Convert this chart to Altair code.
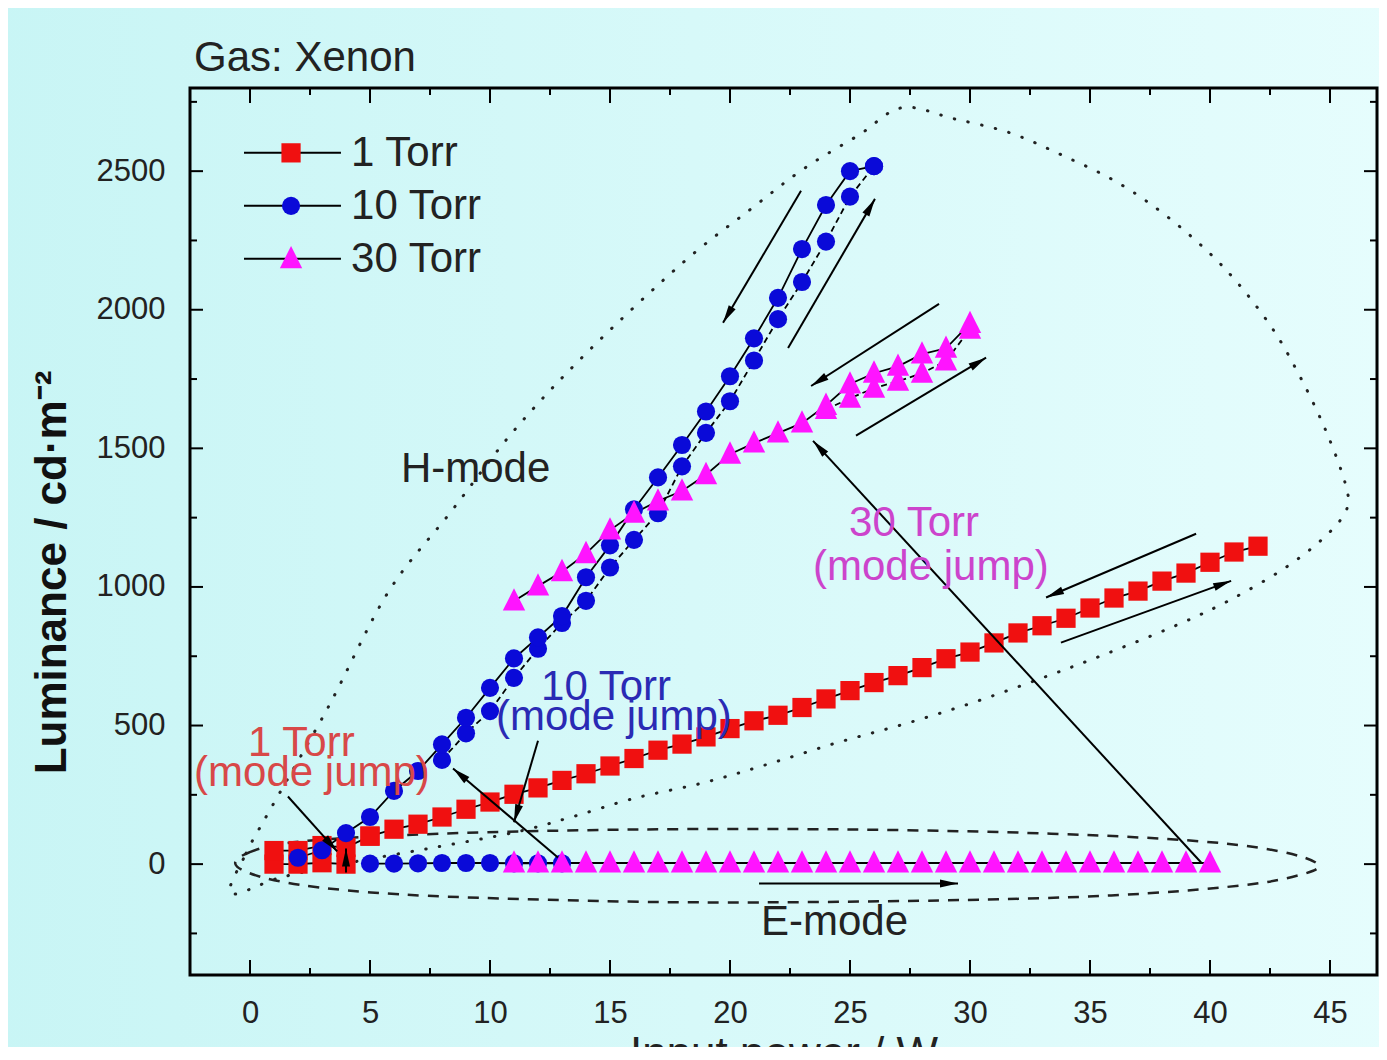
import math
import altair as alt
import pandas as pd

FONT = "Liberation Sans"

# ---------------- data ----------------
# 1 Torr
red_E_x = [1, 2, 3, 4]
red_E_y = [0, 0, 5, 0]
red_H_x = [5, 6, 7, 8, 9, 10, 11, 12, 13, 14, 15, 16, 17, 18, 19, 20, 21, 22, 23,
           24, 25, 26, 27, 28, 29, 30, 31, 32, 33, 34, 35, 36, 37, 38, 39, 40, 41, 42]
red_H_y = [101, 126, 144, 170, 198, 224, 252, 275, 302, 326,
           354, 381, 411, 433, 459, 489, 517, 537, 565, 596,
           626, 655, 680, 709, 741, 765, 798, 834, 860, 887,
           924, 960, 985, 1021, 1050, 1089, 1126, 1147]
red_D_x = [5, 4, 3, 2, 1]
red_D_y = [101, 60, 67, 49, 49]

# 10 Torr
blue_E_x = [5, 6, 7, 8, 9, 10, 11, 12, 13]
blue_E_y = [2, 2, 3, 4, 4, 4, 3, 3, 3]
blue_U_x = [8, 9, 10, 11, 12, 13, 14, 15, 16, 17, 18, 19, 20, 21, 22, 23, 24, 25, 26]
blue_U_y = [376, 472, 552, 672, 777, 870, 950, 1070, 1170, 1266,
            1435, 1556, 1670, 1817, 1966, 2100, 2246, 2408, 2518]
blue_D_x = [26, 25, 24, 23, 22, 21, 20, 19, 18, 17, 16, 15, 14, 13, 12, 11, 10,
            9, 8, 7, 6, 5, 4, 3, 2]
blue_D_y = [2518, 2500, 2378, 2219, 2043, 1897, 1760, 1633, 1512, 1395, 1280,
            1150, 1035, 895, 818, 742, 636, 528, 432, 336, 264, 170, 112, 50, 23]

# 30 Torr
pink_E_x = [11, 12, 13, 14, 15, 16, 17, 18, 19, 20, 21, 22, 23, 24, 25, 26, 27,
            28, 29, 30, 31, 32, 33, 34, 35, 36, 37, 38, 39, 40]
pink_E_y = [4, 4, 4, 4, 4, 4, 4, 4, 4, 4, 4, 4, 4, 4, 4,
            4, 4, 4, 4, 4, 4, 4, 4, 4, 4, 4, 4, 4, 4, 4]
pink_U_x = [24, 25, 26, 27, 28, 29, 30]
pink_U_y = [1640, 1681, 1717, 1742, 1771, 1815, 1930]
pink_D_x = [30, 29, 28, 27, 26, 25, 24, 23, 22, 21, 20, 19, 18, 17, 16, 15, 14,
            13, 12, 11]
pink_D_y = [1950, 1861, 1840, 1796, 1771, 1732, 1655, 1591, 1555, 1519, 1479,
            1405, 1346, 1310, 1266, 1205, 1120, 1055, 1003, 949]

# tick values
x_labels = [0, 5, 10, 15, 20, 25, 30, 35, 40, 45]
x_minor = [2.5, 7.5, 12.5, 17.5, 22.5, 27.5, 32.5, 37.5, 42.5]
y_labels = [0, 500, 1000, 1500, 2000, 2500]
y_minor = [-250, 250, 750, 1250, 1750, 2250, 2750]

# E-mode region (dashed loop), data coordinates
e_loop_x = [-0.54, -0.04, 2.13, 7.96, 16.29, 25.04, 33.38, 39.63, 42.96, 44.5,
            43.79, 41.29, 35.88, 28.79, 18.79, 10.46, 5.04, 1.29]
e_loop_y = [-9, 42, 82, 110, 125, 125, 110, 82, 45, -1,
            -38, -77, -113, -131, -138, -124, -102, -63]

# H-mode region (dotted loop), data coordinates
h_loop_x = [-0.79, -0.17, 0.75, 3.25, 5.75, 8.38, 11.0, 14.08, 18.04, 20.88,
            23.08, 25.38, 27.17, 29.33, 31.67, 33.88, 36.17, 38.38, 40.58, 42.46,
            43.75, 44.88, 45.67, 45.67, 44.75, 43.08, 40.79, 38.58, 35.71, 32.96,
            30.13, 27.33, 24.5, 21.67, 18.92, 16.0, 13.33, 11.0, 7.67, 4.21, 1.29]
h_loop_y = [-106, 38, 183, 565, 980, 1272, 1564, 1849, 2170, 2364,
            2509, 2631, 2729, 2689, 2638, 2556, 2458, 2325, 2152, 1950,
            1759, 1553, 1362, 1275, 1178, 1066, 951, 861, 760, 670,
            583, 507, 439, 363, 294, 237, 168, 114, 60, 6, -48]

# annotation arrows (tail -> head), data coordinates
arr_tx = [22.96, 22.42, 28.71, 25.25, 39.42, 33.79, 21.21, 39.63, 12.0, 12.83, 1.58, 4.0]
arr_ty = [2429, 1862, 2021, 1546, 1192, 799, -70, 6, 445, 24, 244, -30]
arr_hx = [19.71, 26.04, 23.38, 30.67, 33.17, 40.88, 29.5, 23.46, 11.0, 8.46, 3.63, 4.0]
arr_hy = [1953, 2400, 1725, 1827, 962, 1022, -70, 1527, 151, 345, 46, 56]

# texts
ann_text = ["Gas: Xenon", "H-mode", "E-mode", "30 Torr", "(mode jump)",
            "10 Torr", "(mode jump)", "1 Torr", "(mode jump)"]
ann_x = [-2.33, 6.29, 21.29, 24.96, 23.46, 12.13, 10.25, -0.08, -2.33]
ann_y = [2909, 1427, -207, 1232, 1073, 640, 532, 438, 327]
ann_col = ["#222222", "#222222", "#222222", "#cc44cc", "#cc44cc",
           "#2a2ab4", "#2a2ab4", "#d84848", "#d84848"]

leg_names = ["1 Torr", "10 Torr", "30 Torr"]
leg_y = [2566, 2375, 2184]
leg_line_x = [-0.25, 3.79]
leg_mark_x = 1.71
leg_text_x = 4.21

# ---------------- geometry ----------------
W, H = 1187, 887
XMIN = -2.5
XMAX = XMIN + W / 24.0
YMIN, YMAX = -400, 2800
SX = W / (XMAX - XMIN)
SY = H / (YMAX - YMIN)

RED, BLUE, PINK = "#f01010", "#0a0ad8", "#ff14ff"
TRI = "M0,-1.15L-1,0.85L1,0.85Z"
ARROW = "M0,0L-4.5,-1L-4.5,1Z"

XS = alt.Scale(domain=[XMIN, XMAX], nice=False, zero=False)
YS = alt.Scale(domain=[YMIN, YMAX], nice=False, zero=False)
XAX = alt.Axis(values=x_labels, format="d", title="Input power / W", ticks=False,
               tickSize=0, domain=False, grid=False, labelFontSize=31,
               labelPadding=23, labelFont=FONT, labelColor="#222222",
               titleFont=FONT, titleFontSize=44, titleFontWeight="normal",
               titleColor="#222222", titlePadding=4, labelFlush=False, zindex=2)
YAX = alt.Axis(values=y_labels, format="d", title="Luminance / cd·m⁻²", ticks=False,
               tickSize=0, domain=False, grid=False, labelFontSize=31,
               labelPadding=25, labelFont=FONT, labelColor="#222222",
               titleFont=FONT, titleFontSize=44, titleFontWeight="bold",
               titleColor="#111111", titleX=-116, titleY=484, labelFlush=False,
               zindex=2)


def X(f="x"):
    return alt.X(f"{f}:Q", scale=XS, axis=XAX)


def Y(f="y"):
    return alt.Y(f"{f}:Q", scale=YS, axis=YAX)


# series table
segments = [
    ("1 Torr", "rE", red_E_x, red_E_y, False),
    ("1 Torr", "rH", red_H_x, red_H_y, False),
    ("1 Torr", "rD", red_D_x, red_D_y, False),
    ("10 Torr", "bE", blue_E_x, blue_E_y, False),
    ("10 Torr", "bU", blue_U_x, blue_U_y, True),
    ("10 Torr", "bD", blue_D_x, blue_D_y, False),
    ("30 Torr", "pE", pink_E_x, pink_E_y, False),
    ("30 Torr", "pU", pink_U_x, pink_U_y, True),
    ("30 Torr", "pD", pink_D_x, pink_D_y, False),
]
rows = []
for series, seg, xs, ys, dash in segments:
    for i, (xv, yv) in enumerate(zip(xs, ys)):
        rows.append({"series": series, "seg": seg, "ord": i, "x": xv, "y": yv, "dash": dash})
df = pd.DataFrame(rows)

layers = []

# background gradient
bg = alt.Chart(pd.DataFrame({"a": [0]})).mark_rect(
    fill=alt.LinearGradient(gradient="linear",
                            stops=[alt.GradientStop(offset=0, color="#c8f5f5"),
                                   alt.GradientStop(offset=1, color="#e6fdfd")],
                            x1=0, x2=1, y1=0, y2=0)
).encode(x=alt.value(-200), x2=alt.value(W + 20), y=alt.value(-100), y2=alt.value(H + 90))
layers.append(bg)

# region loops
eloop = pd.DataFrame({"x": e_loop_x, "y": e_loop_y, "i": list(range(len(e_loop_x)))})
layers.append(alt.Chart(eloop).mark_line(interpolate="cardinal-closed", color="#222222",
                                         strokeWidth=2.5, strokeDash=[11, 9]).encode(
    x=X(), y=Y(), order="i:Q"))
hloop = pd.DataFrame({"x": h_loop_x, "y": h_loop_y, "i": list(range(len(h_loop_x)))})
layers.append(alt.Chart(hloop).mark_line(interpolate="cardinal-closed", color="#222222",
                                         strokeWidth=3, strokeCap="round",
                                         strokeDash=[0.5, 13.5]).encode(
    x=X(), y=Y(), order="i:Q"))

# connecting lines
layers.append(alt.Chart(df[~df["dash"]]).mark_line(color="black", strokeWidth=1.8).encode(
    x=X(), y=Y(), detail="seg:N", order="ord:Q"))
layers.append(alt.Chart(df[df["dash"]]).mark_line(color="black", strokeWidth=1.8,
                                                  strokeDash=[6, 4]).encode(
    x=X(), y=Y(), detail="seg:N", order="ord:Q"))

# markers
layers.append(alt.Chart(df[df["series"] == "1 Torr"]).mark_point(
    shape="square", filled=True, size=370, color=RED, opacity=1).encode(x=X(), y=Y()))
layers.append(alt.Chart(df[df["series"] == "10 Torr"]).mark_point(
    shape="circle", filled=True, size=330, color=BLUE, opacity=1).encode(x=X(), y=Y()))
layers.append(alt.Chart(df[df["series"] == "30 Torr"]).mark_point(
    shape=TRI, filled=True, size=500, color=PINK, opacity=1).encode(x=X(), y=Y()))

# arrows
angs = []
for tx, ty, hx, hy in zip(arr_tx, arr_ty, arr_hx, arr_hy):
    a = math.degrees(math.atan2(-(hy - ty) * SY, (hx - tx) * SX))
    angs.append((a + 360.0) % 360.0)
arr = pd.DataFrame({"tx": arr_tx, "ty": arr_ty, "hx": arr_hx, "hy": arr_hy, "ang": angs})
layers.append(alt.Chart(arr).mark_rule(color="black", strokeWidth=2).encode(
    x=X("tx"), y=Y("ty"), x2="hx:Q", y2="hy:Q"))
layers.append(alt.Chart(arr).mark_point(shape=ARROW, filled=True, size=64, color="black",
                                        opacity=1).encode(
    x=X("hx"), y=Y("hy"), angle=alt.Angle("ang:Q", scale=None)))

# annotation texts
ann = pd.DataFrame({"x": ann_x, "y": ann_y, "t": ann_text, "c": ann_col})
layers.append(alt.Chart(ann).mark_text(align="left", baseline="middle", font=FONT,
                                       fontSize=42).encode(
    x=X(), y=Y(), text="t:N", color=alt.Color("c:N", scale=None)))

# legend
leg_lines = pd.DataFrame({"x1": [leg_line_x[0]] * 3, "x2": [leg_line_x[1]] * 3, "y": leg_y})
layers.append(alt.Chart(leg_lines).mark_rule(color="black", strokeWidth=2).encode(
    x=X("x1"), x2="x2:Q", y=Y()))
leg_pts = pd.DataFrame({"x": [leg_mark_x] * 3, "y": leg_y, "series": leg_names})
layers.append(alt.Chart(leg_pts[leg_pts["series"] == "1 Torr"]).mark_point(
    shape="square", filled=True, size=370, color=RED, opacity=1).encode(x=X(), y=Y()))
layers.append(alt.Chart(leg_pts[leg_pts["series"] == "10 Torr"]).mark_point(
    shape="circle", filled=True, size=330, color=BLUE, opacity=1).encode(x=X(), y=Y()))
layers.append(alt.Chart(leg_pts[leg_pts["series"] == "30 Torr"]).mark_point(
    shape=TRI, filled=True, size=500, color=PINK, opacity=1).encode(x=X(), y=Y()))
leg_txt = pd.DataFrame({"x": [leg_text_x] * 3, "y": leg_y, "t": leg_names})
layers.append(alt.Chart(leg_txt).mark_text(align="left", baseline="middle", font=FONT,
                                           fontSize=42, color="#222222").encode(
    x=X(), y=Y(), text="t:N"))

# inward ticks on all four sides
xmaj = pd.DataFrame({"v": x_labels})
xmin_ = pd.DataFrame({"v": x_minor})
ymaj = pd.DataFrame({"v": y_labels})
ymin_ = pd.DataFrame({"v": y_minor})
tick = dict(color="black", strokeWidth=2)
layers += [
    alt.Chart(xmaj).mark_rule(**tick).encode(x=X("v"), y=alt.value(H), y2=alt.value(H - 15)),
    alt.Chart(xmaj).mark_rule(**tick).encode(x=X("v"), y=alt.value(0), y2=alt.value(15)),
    alt.Chart(xmin_).mark_rule(**tick).encode(x=X("v"), y=alt.value(H), y2=alt.value(H - 7)),
    alt.Chart(xmin_).mark_rule(**tick).encode(x=X("v"), y=alt.value(0), y2=alt.value(7)),
    alt.Chart(ymaj).mark_rule(**tick).encode(y=Y("v"), x=alt.value(0), x2=alt.value(13)),
    alt.Chart(ymaj).mark_rule(**tick).encode(y=Y("v"), x=alt.value(W), x2=alt.value(W - 13)),
    alt.Chart(ymin_).mark_rule(**tick).encode(y=Y("v"), x=alt.value(0), x2=alt.value(7)),
    alt.Chart(ymin_).mark_rule(**tick).encode(y=Y("v"), x=alt.value(W), x2=alt.value(W - 7)),
]

# plot frame drawn on top
layers.append(alt.Chart(pd.DataFrame({"a": [0]})).mark_rect(
    fillOpacity=0, stroke="black", strokeWidth=3).encode(
    x=alt.value(0), x2=alt.value(W), y=alt.value(0), y2=alt.value(H)))

chart = alt.layer(*layers).properties(
    width=W, height=H,
    padding={"left": 182, "top": 80, "right": 2, "bottom": 72},
    autosize=alt.AutoSizeParams(type="none"),
).configure_view(stroke=None).configure(background="#d0f7f7")

chart.save("out.html", embed_options={"renderer": "svg", "actions": False})
